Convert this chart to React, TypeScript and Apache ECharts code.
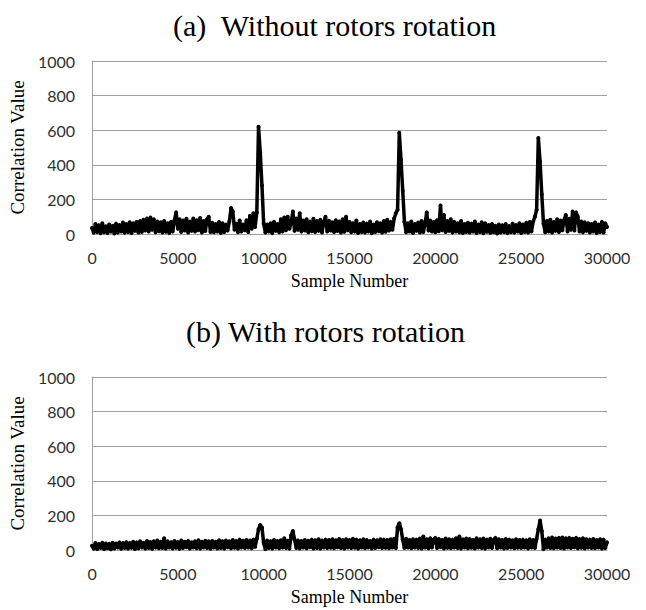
import React, { useEffect, useRef } from "react";
import * as echarts from "echarts";

const SAMPLE_STEP = 100;
const X_MAX = 30000;
const X_INTERVAL = 5000;
const Y_MAX = 1000;
const Y_INTERVAL = 200;

const titleA = "(a)  Without rotors rotation";
const titleB = "(b) With rotors rotation";
const xAxisName = "Sample Number";
const yAxisName = "Correlation Value";

// Correlation values every 100 samples, 0..30000 — without rotors rotation
const withoutRotation = [
  35, 8, 58, 12, 50, 4, 62, 10, 45, 6,
  55, 15, 48, 3, 60, 9, 52, 14, 66, 7,
  58, 11, 68, 5, 62, 18, 70, 8, 75, 12,
  82, 20, 90, 14, 95, 25, 85, 10, 72, 16,
  68, 9, 75, 13, 62, 6, 70, 15, 78, 125,
  30, 85, 12, 78, 20, 88, 9, 72, 18, 90,
  14, 80, 22, 92, 8, 75, 17, 85, 100, 12,
  65, 10, 58, 15, 70, 6, 62, 12, 55, 20,
  72, 150, 130, 25, 60, 10, 78, 14, 55, 22,
  80, 12, 105, 30, 120, 40, 125, 620, 470, 280,
  60, 8, 55, 14, 62, 5, 70, 18, 58, 10,
  85, 15, 95, 22, 100, 30, 65, 130, 18, 90,
  25, 120, 14, 78, 20, 85, 10, 72, 16, 88,
  12, 75, 18, 82, 9, 70, 100, 15, 76, 20,
  68, 11, 80, 17, 72, 8, 85, 13, 100, 22,
  70, 10, 62, 15, 78, 6, 58, 12, 66, 9,
  60, 14, 72, 5, 55, 11, 68, 16, 62, 8,
  75, 13, 82, 20, 70, 25, 90, 120, 140, 585,
  430, 250, 70, 10, 62, 15, 72, 6, 58, 18,
  66, 9, 75, 12, 60, 125, 20, 78, 14, 70,
  10, 80, 16, 165, 22, 110, 12, 75, 18, 85,
  8, 70, 14, 62, 10, 75, 5, 58, 12, 65,
  9, 60, 15, 72, 6, 55, 11, 68, 4, 62,
  13, 52, 7, 58, 10, 48, 3, 55, 9, 50,
  12, 58, 5, 46, 10, 60, 8, 52, 14, 62,
  6, 55, 11, 65, 9, 70, 15, 72, 100, 140,
  555, 420, 230, 60, 10, 75, 14, 82, 8, 70,
  18, 85, 12, 78, 22, 80, 110, 15, 88, 25,
  130, 20, 125, 100, 14, 72, 10, 68, 18, 62,
  8, 58, 15, 66, 5, 55, 12, 70, 9, 62,
  40,
];

// Correlation values every 100 samples, 0..30000 — with rotors rotation
const withRotation = [
  25, 8, 40, 5, 35, 12, 42, 6, 38, 10,
  36, 4, 42, 9, 38, 14, 44, 7, 40, 11,
  45, 8, 40, 13, 48, 6, 44, 10, 50, 15,
  42, 9, 52, 12, 46, 7, 50, 14, 55, 10,
  48, 12, 68, 8, 50, 15, 45, 9, 52, 13,
  46, 7, 55, 12, 48, 16, 52, 9, 45, 14,
  50, 10, 56, 8, 48, 14, 54, 11, 50, 7,
  52, 15, 48, 9, 56, 12, 50, 8, 55, 16,
  50, 10, 58, 13, 52, 9, 60, 15, 54, 11,
  58, 14, 55, 10, 60, 18, 65, 120, 145, 130,
  40, 5, 55, 12, 50, 9, 58, 14, 52, 10,
  56, 15, 68, 11, 54, 8, 85, 110, 60, 12,
  55, 9, 52, 14, 58, 10, 54, 16, 60, 8,
  56, 12, 62, 9, 55, 15, 60, 11, 58, 13,
  62, 10, 56, 16, 64, 12, 58, 9, 62, 14,
  58, 11, 65, 13, 60, 8, 56, 15, 62, 10,
  58, 14, 52, 9, 60, 12, 56, 16, 62, 11,
  60, 13, 58, 10, 62, 15, 65, 12, 130, 155,
  120, 60, 12, 65, 14, 58, 10, 62, 15, 60,
  12, 66, 9, 78, 14, 62, 10, 68, 15, 60,
  70, 11, 64, 16, 58, 9, 66, 13, 62, 10,
  60, 15, 68, 12, 78, 9, 62, 14, 66, 10,
  64, 13, 58, 9, 68, 15, 62, 11, 66, 8,
  60, 14, 65, 12, 58, 70, 10, 62, 14, 58,
  9, 64, 12, 60, 15, 56, 10, 62, 13, 58,
  11, 60, 14, 56, 9, 62, 15, 58, 12, 65,
  120, 170, 110, 5, 60, 14, 68, 12, 72, 10,
  66, 15, 70, 12, 72, 9, 68, 14, 70, 11,
  65, 16, 70, 10, 64, 13, 68, 9, 62, 15,
  60, 12, 64, 10, 58, 14, 62, 9, 60, 12,
  45,
];

const toPairs = (vals: number[]) => vals.map((v, i) => [i * SAMPLE_STEP, v]);

const GRID_COLOR = "#a0a0a0";
const TICK_FONT = "Lato";
const SERIF = "Liberation Serif";

export default function App() {
  const ref = useRef<HTMLDivElement>(null);
  useEffect(() => {
    if (!ref.current) return;
    const chart = echarts.init(ref.current, null, { renderer: "svg" });
    const plain = (v: number) => String(v);
    const xAxisFor = (i: number) => ({
      type: "value",
      gridIndex: i,
      min: 0,
      max: X_MAX,
      interval: X_INTERVAL,
      axisLine: { show: true, lineStyle: { color: GRID_COLOR, width: 1 } },
      axisTick: { show: false },
      splitLine: { show: false },
      axisLabel: { margin: 15, fontFamily: TICK_FONT, fontSize: 16, color: "#303030", formatter: plain },
      name: xAxisName,
      nameLocation: "middle",
      nameGap: 38,
      nameTextStyle: { fontFamily: SERIF, fontSize: 18, color: "#000" },
    });
    const yAxisFor = (i: number) => ({
      type: "value",
      gridIndex: i,
      min: 0,
      max: Y_MAX,
      interval: Y_INTERVAL,
      axisLine: { show: true, lineStyle: { color: GRID_COLOR, width: 1 } },
      axisTick: { show: false },
      splitLine: { show: true, lineStyle: { color: GRID_COLOR, width: 1 } },
      axisLabel: { margin: 17, fontFamily: TICK_FONT, fontSize: 16, color: "#303030", formatter: plain },
      name: yAxisName,
      nameLocation: "middle",
      nameGap: 53,
      nameTextStyle: { fontFamily: SERIF, fontSize: 19, color: "#000" },
    });
    const seriesFor = (i: number, vals: number[]) => ({
      type: "line",
      xAxisIndex: i,
      yAxisIndex: i,
      data: toPairs(vals),
      symbol: "circle",
      symbolSize: 4,
      showSymbol: true,
      itemStyle: { color: "#000" },
      lineStyle: { color: "#000", width: 3.5 },
      clip: false,
      silent: true,
    });
    const titleStyle = { fontFamily: SERIF, fontSize: 30, fill: "#000", textAlign: "left", textVerticalAlign: "top" };
    chart.setOption({
      animation: false,
      backgroundColor: "#fff",
      graphic: [
        { type: "text", left: 173, top: 10, style: { ...titleStyle, text: titleA } },
        { type: "text", left: 186, top: 316, style: { ...titleStyle, text: titleB } },
      ],
      grid: [
        { left: 92, width: 515, top: 61, height: 173 },
        { left: 92, width: 515, top: 377, height: 173 },
      ],
      xAxis: [xAxisFor(0), xAxisFor(1)],
      yAxis: [yAxisFor(0), yAxisFor(1)],
      series: [seriesFor(0, withoutRotation), seriesFor(1, withRotation)],
    });
    return () => chart.dispose();
  }, []);
  return (
    <div
      ref={ref}
      style={{ position: "fixed", left: 0, top: 0, width: 646, height: 610 }}
    />
  );
}
